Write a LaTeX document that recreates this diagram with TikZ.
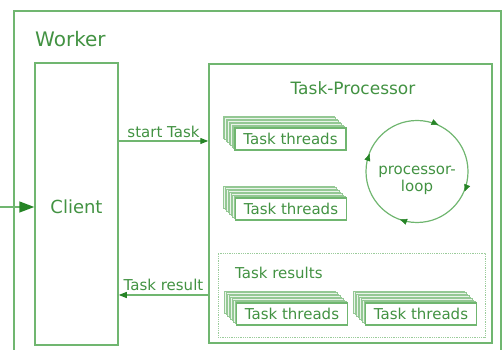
\documentclass[tikz,border=0pt]{standalone}
\usepackage{fontspec}
\setmainfont{DejaVu Sans}
\usetikzlibrary{arrows.meta,decorations.markings,shadows}
\definecolor{lineg}{RGB}{112,182,112}
\definecolor{textg}{RGB}{66,146,66}
\definecolor{headg}{RGB}{38,132,38}
\begin{document}
\begin{tikzpicture}[x=1pt,y=1pt,
  frame/.style={draw=lineg, line width=1.5pt},
  txt/.style={text=textg, inner sep=0pt},
  stacklayer/.style={general shadow={shadow xshift=-#1pt, shadow yshift=#1pt,
      draw=lineg!75, fill=lineg!15, line width=0.6pt}},
  threads/.style={draw=lineg, line width=1.2pt, fill=white, text=textg,
      font=\fontsize{15}{17}\selectfont, minimum width=111pt, minimum height=22pt,
      inner sep=0pt, stacklayer=12, stacklayer=10.5, stacklayer=9,
      stacklayer=7.5, stacklayer=6, stacklayer=4.5, stacklayer=3, stacklayer=1.5},
  flow/.style={draw=lineg, line width=1.3pt,
      -{Triangle[length=8pt,width=6pt,fill=headg,color=headg]}},
  loopmark/.style={decoration={markings,
      mark=at position #1 with {\arrow[headg]{Triangle[length=7pt,width=6pt]}}}}
]
\useasboundingbox (0,0) rectangle (504,350);

% worker frame, open at the bottom of the page
\draw[frame, line width=2pt] (14,-10) -- (14,339) -- (501,339) -- (501,-10);
\node[txt, anchor=west, font=\fontsize{20}{24}\selectfont] (worker) at (35,311) {Worker};

% client
\node[frame, minimum width=83pt, minimum height=282pt, inner sep=0pt] (client) at (76.5,146) {};
\node[txt, font=\fontsize{18}{21}\selectfont] (clientlbl) at (76.5,143) {Client};

% task processor
\node[frame, minimum width=283pt, minimum height=279pt, inner sep=0pt] (tp) at (350.5,146.5) {};
\node[txt, font=\fontsize{17}{20}\selectfont] (tplbl) at (353,262) {Task-Processor};

% thread stacks
\node[threads] (t1) at (290.5,211) {Task threads};
\node[threads] (t2) at (291,141) {Task threads};

% processor loop
\node[circle, draw=lineg, line width=1.2pt, minimum size=102pt, inner sep=0pt] (loop) at (417,178.5) {};
\node[txt, align=center, font=\fontsize{15}{17}\selectfont] (looplbl) at (417,170) {processor-\\loop};
\path[decorate, loopmark/.list={0.064,0.306,0.556,0.817}]
  (loop.east) arc[start angle=0, end angle=-360, radius=51pt];

% results area
\node[draw=lineg!70, densely dotted, line width=0.8pt, minimum width=267pt,
      minimum height=84pt, inner sep=0pt] (res) at (351.5,55) {};
\node[txt, anchor=west, font=\fontsize{15}{17}\selectfont] (reslbl) at (235,77) {Task results};
\node[threads] (t3) at (292,36) {Task threads};
\node[threads] (t4) at (421,36) {Task threads};

% connectors
\coordinate (src) at (0,143);
\draw[draw=lineg, line width=1.5pt,
      -{Triangle[length=15pt,width=11pt,fill=headg,color=headg]}]
  (src) -- (src -| client.west);
\coordinate (go) at (0,209);
\draw[flow] (go -| client.east) -- node[txt, above=3pt, font=\fontsize{15}{17}\selectfont] (startlbl) {start Task} (go -| tp.west);
\coordinate (back) at (0,55);
\draw[flow] (back -| tp.west) -- node[txt, above=4pt, font=\fontsize{15}{17}\selectfont] (resultlbl) {Task result} (back -| client.east);
\end{tikzpicture}
\end{document}
